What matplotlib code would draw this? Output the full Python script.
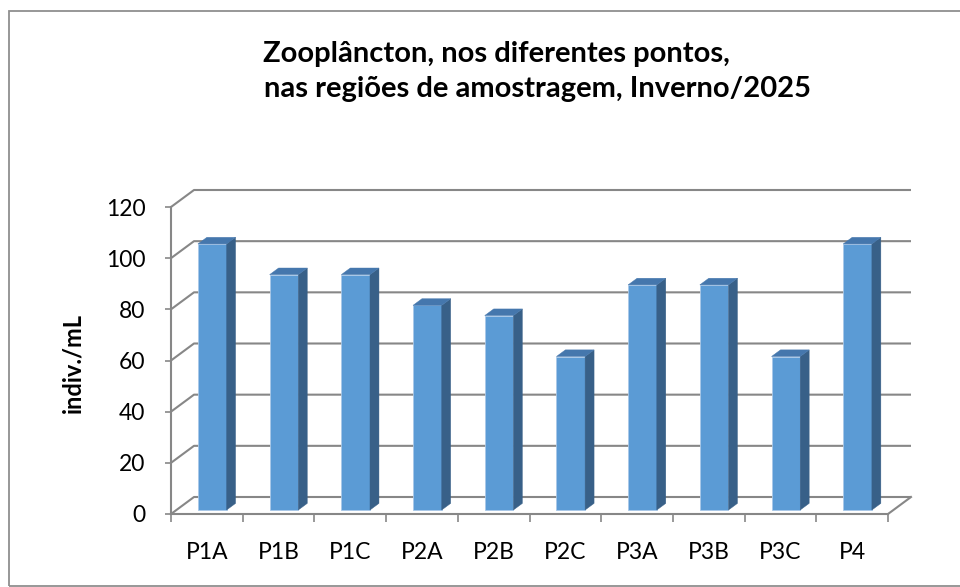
import matplotlib
matplotlib.use('Agg')
import matplotlib.pyplot as plt
from matplotlib.patches import Polygon, Rectangle

# Data
points = ['P1A', 'P1B', 'P1C', 'P2A', 'P2B', 'P2C', 'P3A', 'P3B', 'P3C', 'P4']
indiv_ml = [104, 92, 92, 80, 76, 60, 88, 88, 60, 104]
y_ticks = [0, 20, 40, 60, 80, 100, 120]

title_line1 = 'Zooplâncton, nos diferentes pontos,'
title_line2 = 'nas regiões de amostragem, Inverno/2025'
y_label = 'indiv./mL'

plt.rcParams['font.family'] = ['Lato', 'DejaVu Sans']

W, H = 960, 587
fig = plt.figure(figsize=(W / 100, H / 100), dpi=100)

# front plane of the 3D box, in pixels
x0, x1 = 171, 888
y0, y1 = 514, 207
ax = fig.add_axes([x0 / W, 1 - y0 / H, (x1 - x0) / W, (y0 - y1) / H])
n = len(points)
ax.set_xlim(0, n)
ax.set_ylim(0, 120)

# oblique depth offset (front -> back wall) in data units
DX = 23 / ((x1 - x0) / n)
DY = 17 / ((y0 - y1) / 120)

grid_col = '#878787'
for v in y_ticks:
    ax.plot([0, DX, n + DX], [v, v + DY, v + DY], color=grid_col, lw=1.5,
            clip_on=False, zorder=1, solid_capstyle='butt')
# right edge of the floor
ax.plot([n, n + DX], [0, DY], color=grid_col, lw=1.5, clip_on=False, zorder=1)

# bars: front face via ax.bar, side and top as polygons
f0 = 0.235   # depth of front face
d = 0.39     # bar depth
bw = 0.40
front_col, side_col, top_col = '#5b9bd5', '#386088', '#4577ad'
xs = [i + 0.5 + f0 * DX for i in range(n)]
bottom = f0 * DY
ax.bar(xs, indiv_ml, width=bw, bottom=bottom, color=front_col,
       edgecolor='#a9c8e8', linewidth=0.6, zorder=3, clip_on=False)
for x, v in zip(xs, indiv_ml):
    xl, xr = x - bw / 2, x + bw / 2
    top = bottom + v
    side = Polygon([(xr, bottom), (xr + d * DX, bottom + d * DY),
                    (xr + d * DX, top + d * DY), (xr, top)],
                   closed=True, facecolor=side_col, edgecolor=side_col,
                   lw=0.3, zorder=3, clip_on=False)
    cap = Polygon([(xl, top), (xr, top), (xr + d * DX, top + d * DY),
                   (xl + d * DX, top + d * DY)],
                  closed=True, facecolor=top_col, edgecolor=top_col,
                  lw=0.3, zorder=3, clip_on=False)
    ax.add_patch(side)
    ax.add_patch(cap)

# axes styling
for s in ['top', 'right']:
    ax.spines[s].set_visible(False)
for s in ['left', 'bottom']:
    ax.spines[s].set_color(grid_col)
    ax.spines[s].set_linewidth(1.5)
    ax.spines[s].set_zorder(2)

ax.set_yticks(y_ticks)
ax.set_yticklabels([str(t) for t in y_ticks], fontsize=16.5, color='black')
ax.tick_params(axis='y', length=4.3, width=1.2, color=grid_col, pad=14)

ax.set_xticks(range(n + 1))
ax.set_xticklabels([])
ax.set_xticks([i + 0.5 for i in range(n)], minor=True)
ax.set_xticklabels(points, minor=True, fontsize=16.5, color='black')
ax.tick_params(axis='x', which='major', length=5.8, width=1.2, color=grid_col)
ax.tick_params(axis='x', which='minor', length=0, pad=20)

ax.set_ylabel(y_label, fontsize=17, fontweight='bold')
ax.yaxis.set_label_coords(84 / W, 1 - 363 / H, transform=fig.transFigure)
ax.patch.set_visible(False)

# title (two lines, as in the original)
fig.text(496 / W, 1 - 62 / H, title_line1, ha='center', va='baseline',
         fontsize=21, fontweight='bold')
fig.text(538 / W, 1 - 97 / H, title_line2, ha='center', va='baseline',
         fontsize=21, fontweight='bold')

# chart border
fig.add_artist(Rectangle((9 / W, 1 - 586 / H), 1.2, (586 - 11) / H,
                         transform=fig.transFigure, fill=False,
                         edgecolor='#8f8f8f', lw=1.3))

plt.savefig('out.png', dpi=100)
